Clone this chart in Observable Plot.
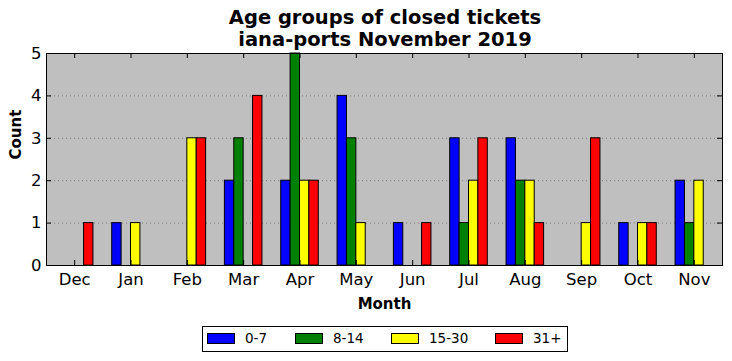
<!DOCTYPE html>
<html>
<head>
<meta charset="utf-8">
<script src="https://cdn.jsdelivr.net/npm/d3@7"></script>
<script src="https://cdn.jsdelivr.net/npm/@observablehq/plot@0.6"></script>
<style>
  body { margin: 0; background: #fff; font-family: "DejaVu Sans", sans-serif; }
  #wrap { width: 732px; height: 361px; position: relative; }
  #title { position: absolute; left: 46px; width: 678px; top: 7px; text-align: center;
           font-weight: bold; font-size: 19.5px; line-height: 22px; color: #000; z-index: 2; }
  #chart { position: absolute; left: 0; top: 30px; }
  #legend { position: absolute; left: 202px; top: 326px; width: 364px; height: 24px;
            border: 1px solid #000; font-size: 13.5px; }
  .item { position: absolute; top: 0; height: 24px; line-height: 24px; }
  .sw { position: absolute; top: 6px; width: 26px; height: 9px; border: 1px solid #000; }
  .lab { position: absolute; left: 38px; top: -1px; white-space: nowrap; }
</style>
</head>
<body>
<div id="wrap">
  <div id="chart"></div>
  <div id="title">Age groups of closed tickets<br>iana-ports November 2019</div>
  <div id="legend"></div>
</div>
<script>
const months = ["Dec", "Jan", "Feb", "Mar", "Apr", "May", "Jun", "Jul", "Aug", "Sep", "Oct", "Nov"];
const seriesNames = ["0-7", "8-14", "15-30", "31+"];
const seriesColors = ["#0000ff", "#008000", "#ffff00", "#ff0000"];
const age0_7 = [0, 1, 0, 2, 2, 4, 1, 3, 3, 0, 1, 2];
const age8_14 = [0, 0, 0, 3, 5, 3, 0, 1, 2, 0, 0, 1];
const age15_30 = [0, 1, 3, 0, 2, 1, 0, 2, 2, 1, 1, 2];
const age31 = [1, 0, 3, 4, 2, 0, 1, 3, 1, 3, 1, 0];
const yTicks = [0, 1, 2, 3, 4, 5];

const allSeries = [age0_7, age8_14, age15_30, age31];
const rows = [];
allSeries.forEach((vals, s) => {
  vals.forEach((v, i) => rows.push({i, s, series: seriesNames[s], value: v}));
});
const idx = months.map((m, i) => i);
const barW = 1 / 6;

const plot = Plot.plot({
  width: 732,
  height: 290,
  marginLeft: 46,
  marginRight: 10,
  marginTop: 23,
  marginBottom: 55,
  style: {fontFamily: "DejaVu Sans, sans-serif", background: "transparent", overflow: "visible"},
  x: {domain: [-0.5, 11.5]},
  y: {domain: [0, 5]},
  color: {domain: seriesNames, range: seriesColors},
  marks: [
    Plot.frame({fill: "#bfbfbf", stroke: null}),
    Plot.gridY(yTicks.slice(1, -1), {stroke: "#7a7a7a", strokeOpacity: 1, strokeDasharray: "1,3"}),
    Plot.rectY(rows, {
      x1: d => d.i + (d.s - 2) * barW,
      x2: d => d.i + (d.s - 1) * barW,
      y1: 0,
      y2: "value",
      fill: "series",
      stroke: "#000",
      strokeWidth: 1
    }),
    Plot.frame({stroke: "#000", strokeWidth: 1}),
    Plot.tickX(idx, {x: d => d, insetTop: 207, stroke: "#000"}),
    Plot.tickX(idx, {x: d => d, insetBottom: 207, stroke: "#000"}),
    Plot.tickY(yTicks, {y: d => d, insetRight: 671, stroke: "#000"}),
    Plot.tickY(yTicks, {y: d => d, insetLeft: 671, stroke: "#000"}),
    Plot.axisX(idx, {tickSize: 0, tickPadding: 8, fontSize: 16.5, label: null, tickFormat: i => months[i], fill: "#000"}),
    Plot.axisY(yTicks, {tickSize: 0, tickPadding: 5, fontSize: 16.5, label: null, fill: "#000"}),
    Plot.text(["Month"], {frameAnchor: "bottom", lineAnchor: "middle", dy: 39, text: d => d, fontWeight: "bold", fontSize: 15, fill: "#000"}),
    Plot.text(["Count"], {frameAnchor: "left", dx: -30, rotate: -90, text: d => d, fontWeight: "bold", fontSize: 15, fill: "#000"})
  ]
});
document.getElementById("chart").appendChild(plot);

const legendPos = [4, 92, 188, 292];
const legend = document.getElementById("legend");
seriesNames.forEach((name, s) => {
  const item = document.createElement("div");
  item.className = "item";
  item.style.left = legendPos[s] + "px";
  const sw = document.createElement("div");
  sw.className = "sw";
  sw.style.background = seriesColors[s];
  const lab = document.createElement("span");
  lab.className = "lab";
  lab.textContent = name;
  item.appendChild(sw);
  item.appendChild(lab);
  legend.appendChild(item);
});
</script>
</body>
</html>
